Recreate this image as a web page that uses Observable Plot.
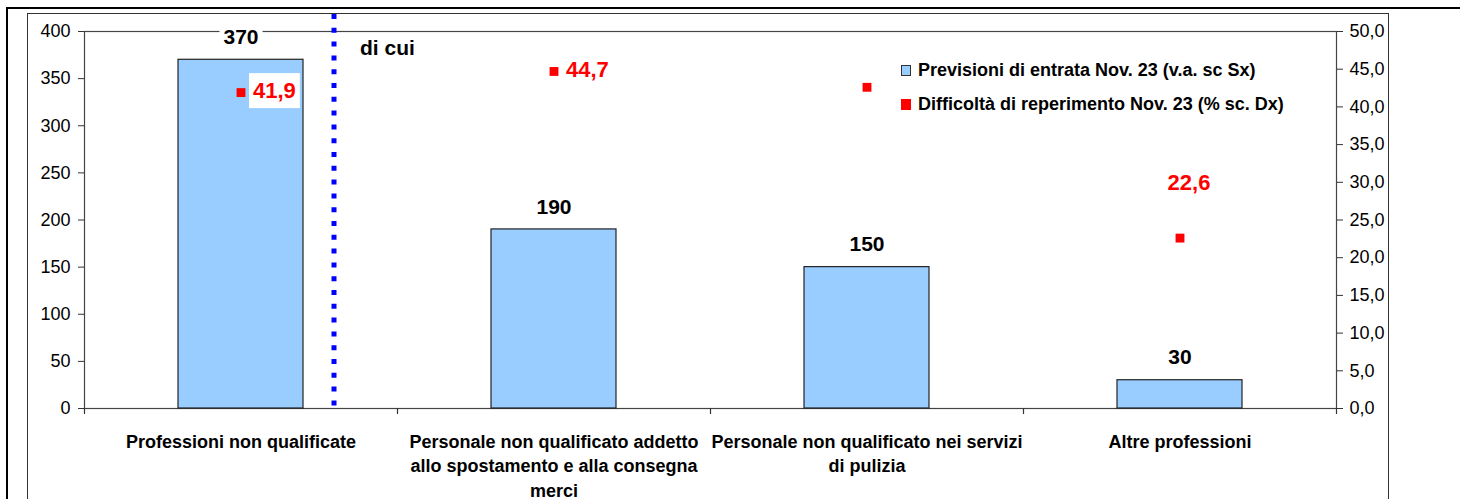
<!DOCTYPE html>
<html>
<head>
<meta charset="utf-8">
<script src="https://cdn.jsdelivr.net/npm/d3@7"></script>
<script src="https://cdn.jsdelivr.net/npm/@observablehq/plot@0.6"></script>
<style>
  html, body { margin: 0; padding: 0; background: #fff; overflow: hidden; }
  #wrap { position: relative; width: 1460px; height: 499px; font-family: "Liberation Sans", Arial, sans-serif; }
  #outer { position: absolute; left: 6px; top: 7px; width: 2000px; height: 1000px;
           border-top: 2.5px solid #000; border-left: 2.5px solid #000; pointer-events: none; }
  #inner { position: absolute; left: 27px; top: 13px; width: 1360px; height: 1000px;
           border: 1.5px solid #333; pointer-events: none; }
  #legend { position: absolute; left: 897px; top: 51px; background: #fff; padding: 2px 4px 2px 4px;
            font-weight: bold; font-size: 18px; color: #000; }
  #legend .row { display: flex; align-items: center; height: 34px; white-space: nowrap; }
  #legend .sw { width: 8px; height: 9px; margin-right: 7px; box-sizing: content-box; }
  svg { position: absolute; left: 0; top: 0; }
</style>
</head>
<body>
<div id="wrap">
  <div id="inner"></div>
  <div id="outer"></div>
</div>
<script>
// ---- data ----
const categories = [
  "Professioni non qualificate",
  "Personale non qualificato addetto allo spostamento e alla consegna merci",
  "Personale non qualificato nei servizi di pulizia",
  "Altre professioni"
];
const categoryLabels = [
  "Professioni non qualificate",
  "Personale non qualificato addetto\nallo spostamento e alla consegna\nmerci",
  "Personale non qualificato nei servizi\ndi pulizia",
  "Altre professioni"
];
const entrate = [370, 190, 150, 30];          // Previsioni di entrata Nov. 23 (v.a.)
const difficolta = [41.9, 44.7, 42.6, 22.6];  // Difficoltà di reperimento Nov. 23 (%)
const leftTicks = [0, 50, 100, 150, 200, 250, 300, 350, 400];
const rightTicks = [0, 5, 10, 15, 20, 25, 30, 35, 40, 45, 50];
const legendLabels = [
  "Previsioni di entrata Nov. 23 (v.a. sc Sx)",
  "Difficoltà di reperimento Nov. 23 (% sc. Dx)"
];
const annotation = "di cui";

// ---- build ----
const rows = categories.map((c, i) => ({cat: c, label: categoryLabels[i], entrate: entrate[i], diff: difficolta[i]}));
const ratio = 400 / 50; // left scale max / right scale max
const fmt1 = v => v.toFixed(1).replace(".", ",");

const W = 1460, H = 499, mL = 84, mR = 124, mT = 31, mB = 91;
const pIn = 0.6, pOut = 0.3;
const step = (W - mL - mR) / (categories.length - pIn + 2 * pOut);

const red = "#ff0000";
const font = "'Liberation Sans', Arial, sans-serif";

const plot = Plot.plot({
  width: W, height: H,
  marginLeft: mL, marginRight: mR, marginTop: mT, marginBottom: mB,
  style: {fontFamily: font, background: "transparent", overflow: "visible", color: "#000"},
  x: {type: "band", domain: categories, paddingInner: pIn, paddingOuter: pOut, axis: null},
  y: {domain: [0, 400], axis: null},
  marks: [
    Plot.frame({stroke: "#444", strokeWidth: 1.2}),
    Plot.barY(rows, {x: "cat", y: "entrate", fill: "#99ccff", stroke: "#222", strokeWidth: 1.2}),
    // category boundary ticks on the baseline
    Plot.ruleX(categories, {x: d => d, dx: -step / 2, y1: 0, y2: 0, insetBottom: -6, stroke: "#333", strokeWidth: 1.2}),
    Plot.ruleX([categories[categories.length - 1]], {x: d => d, dx: step / 2, y1: 0, y2: 0, insetBottom: -6, stroke: "#333", strokeWidth: 1.2}),
    Plot.axisY(leftTicks, {anchor: "left", tickSize: 6, tickPadding: 8, fontSize: 18, label: null, stroke: "#333"}),
    Plot.axisY(rightTicks.map(d => d * ratio), {anchor: "right", tickSize: 6, tickPadding: 7, fontSize: 18, label: null,
      tickFormat: d => fmt1(d / ratio), stroke: "#333"}),
    // dotted separator
    Plot.ruleX([categories[0]], {x: d => d, dx: 93, y1: 400, y2: 0, insetTop: -17,
      stroke: "#0000ff", strokeWidth: 5, strokeDasharray: "5,8.8"}),
    Plot.text([annotation], {x: () => categories[0], y: () => 400, dx: 119, dy: 17, text: d => d,
      textAnchor: "start", fontSize: 21, fontWeight: "bold", fill: "#000"}),
    // bar value labels
    Plot.text(rows, {x: "cat", y: "entrate", text: d => String(d.entrate), dy: -22.5,
      fontSize: 21, fontWeight: "bold", fill: "#000", className: "boxed"}),
    // category labels
    Plot.text(rows, {x: "cat", y: () => 0, text: "label", dy: 22, lineAnchor: "top", lineHeight: 1.36,
      fontSize: 18, fontWeight: "bold", fill: "#000"}),
    // difficulty markers
    Plot.dot(rows, {x: "cat", y: d => d.diff * ratio, symbol: "square", r: 5, fill: red}),
    Plot.text(rows.filter(d => d.cat === categories[0] || d.cat === categories[1]),
      {x: "cat", y: d => d.diff * ratio, text: d => fmt1(d.diff), dx: 12, dy: -1.5, textAnchor: "start",
       fontSize: 22, fontWeight: "bold", fill: red, className: "boxed"}),
    Plot.text(rows.filter(d => d.cat === categories[3]),
      {x: "cat", y: d => d.diff * ratio, text: d => fmt1(d.diff), dx: 9, dy: -55,
       fontSize: 22, fontWeight: "bold", fill: red, className: "boxed"})
  ]
});

const wrap = document.getElementById("wrap");
wrap.insertBefore(plot, wrap.firstChild);

// white boxes behind labels
document.querySelectorAll("svg g.boxed text").forEach(t => {
  const b = t.getBBox();
  const r = document.createElementNS("http://www.w3.org/2000/svg", "rect");
  r.setAttribute("x", b.x - 4);
  r.setAttribute("y", b.y - 5);
  r.setAttribute("width", b.width + 8);
  r.setAttribute("height", b.height + 10);
  r.setAttribute("fill", "#fff");
  if (t.getAttribute("transform")) r.setAttribute("transform", t.getAttribute("transform"));
  t.parentNode.insertBefore(r, t);
});

// legend
const legend = document.createElement("div");
legend.id = "legend";
const swatches = [
  {background: "#99ccff", border: "1px solid #333"},
  {background: red, border: "1px solid " + red}
];
legendLabels.forEach((lab, i) => {
  const row = document.createElement("div");
  row.className = "row";
  const sw = document.createElement("span");
  sw.className = "sw";
  sw.style.background = swatches[i].background;
  sw.style.border = swatches[i].border;
  const tx = document.createElement("span");
  tx.textContent = lab;
  row.appendChild(sw); row.appendChild(tx);
  legend.appendChild(row);
});
wrap.appendChild(legend);
</script>
</body>
</html>
